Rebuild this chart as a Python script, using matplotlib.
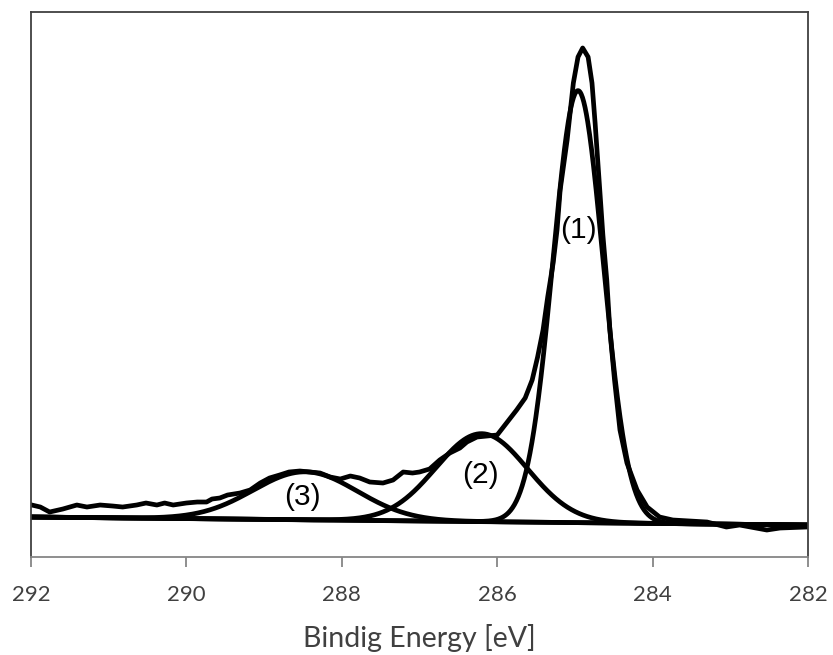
import numpy as np
import matplotlib
matplotlib.use("Agg")
import matplotlib.pyplot as plt

energy = [291.99, 291.88, 291.76, 291.59, 291.41, 291.28, 291.11, 290.95, 290.82, 290.64,
          290.52, 290.38, 290.28, 290.17, 290.00, 289.86, 289.74, 289.67, 289.57, 289.47,
          289.31, 289.18, 289.05, 288.93, 288.80, 288.68, 288.54, 288.41, 288.28, 288.15,
          288.02, 287.89, 287.77, 287.64, 287.47, 287.34, 287.21, 287.09, 287.00, 286.87,
          286.74, 286.61, 286.48, 286.39, 286.26, 286.13, 286.00, 285.88, 285.75, 285.64,
          285.55, 285.48, 285.41, 285.35, 285.28, 285.23, 285.19, 285.10, 285.02, 284.96,
          284.90, 284.83, 284.78, 284.74, 284.68, 284.64, 284.59, 284.55, 284.49, 284.42,
          284.33, 284.20, 284.07, 283.91, 283.74, 283.30, 283.05, 282.88, 282.53, 282.36,
          282.02]
intensity = [52, 50, 45, 48, 52, 50, 52, 51, 50, 52,
             54, 52, 54, 52, 54, 55, 55, 58, 59, 62,
             64, 67, 74, 79, 82, 85, 86, 85, 84, 80,
             78, 81, 79, 75, 74, 77, 85, 84, 85, 88,
             97, 104, 109, 115, 120, 121, 122, 134, 147, 159,
             177, 200, 227, 260, 294, 327, 367, 417, 474, 500,
             509, 500, 474, 434, 367, 322, 277, 227, 177, 127,
             94, 67, 50, 40, 37, 35, 30, 32, 27, 29,
             30]

# background (linear, end points)
bg_energy = [292.0, 282.0]
bg_level = [40, 32]

# fitted components
peak_labels = ["(1)", "(2)", "(3)"]
peak_center = [284.96, 286.20, 288.47]
peak_height = [432, 88, 48]
peak_fwhm = [0.76, 1.39, 1.58]
label_pos = [(284.95, 327), (286.21, 82), (288.51, 60)]

e = np.linspace(292, 282, 1200)
bg = np.interp(e, bg_energy[::-1], bg_level[::-1])

fig = plt.figure(figsize=(8.33, 6.55), dpi=100)
ax = fig.add_axes([0.0372, 0.1496, 0.9328, 0.8321])

lw = 3.4
ax.plot(e, bg, color="black", lw=lw, solid_capstyle="butt")
for c, h, w in zip(peak_center, peak_height, peak_fwhm):
    s = w / 2.3548
    ax.plot(e, bg + h * np.exp(-0.5 * ((e - c) / s) ** 2), color="black", lw=lw)
ax.plot(energy, intensity, color="black", lw=lw, solid_joinstyle="round")

for lab, (x, y) in zip(peak_labels, label_pos):
    ax.text(x, y, lab, ha="center", va="center", fontsize=21.5,
            family="Liberation Sans", color="black")

ax.set_xlim(292, 282)
ax.set_ylim(0, 545)
ax.set_xticks([292, 290, 288, 286, 284, 282])
ax.set_yticks([])

for side in ["left", "top", "right"]:
    ax.spines[side].set_color("#404040")
    ax.spines[side].set_linewidth(1.3)
ax.spines["bottom"].set_color("#868686")
ax.spines["bottom"].set_linewidth(1.3)
ax.tick_params(axis="x", direction="out", length=7, width=1.3, color="#868686",
               pad=13, labelsize=16, labelcolor="#404040")
for t in ax.get_xticklabels():
    t.set_family("Lato")
ax.set_xlabel("Bindig Energy [eV]", fontsize=20.5, family="Lato", color="#404040",
              labelpad=14)

fig.savefig("out.png", dpi=100)
